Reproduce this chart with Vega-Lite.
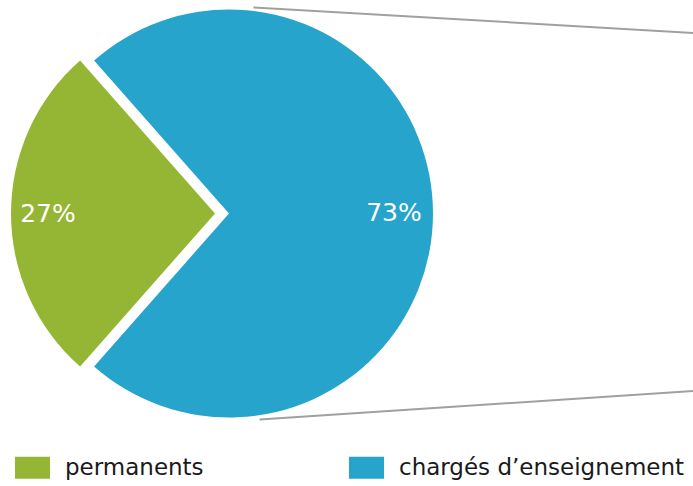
{
  "$schema": "https://vega.github.io/schema/vega-lite/v6.json",
  "width": 693,
  "height": 486,
  "autosize": {"type": "none"},
  "padding": 0,
  "background": "white",
  "config": {"view": {"stroke": null}, "font": "DejaVu Sans"},
  "datasets": {
    "shares": [
      {"groupe": "chargés d’enseignement", "pct": 73, "etiquette": "73%", "rang": 1},
      {"groupe": "permanents", "pct": 27, "etiquette": "27%", "rang": 2}
    ],
    "connectors": [
      {"x": 0.12, "y": 1.01, "x2": 2.28, "y2": 0.885},
      {"x": 0.15, "y": -1.01, "x2": 2.28, "y2": -0.87}
    ]
  },
  "layer": [
    {
      "data": {"name": "connectors"},
      "mark": {"type": "rule", "color": "#A0A0A0", "strokeWidth": 2},
      "encoding": {
        "x": {"field": "x", "type": "quantitative", "scale": {"domain": [-1.1225, 2.2745], "nice": false, "zero": false}, "axis": null},
        "y": {"field": "y", "type": "quantitative", "scale": {"domain": [-1.3358, 1.0466], "nice": false, "zero": false}, "axis": null},
        "x2": {"field": "x2"},
        "y2": {"field": "y2"}
      }
    },
    {
      "data": {"name": "shares"},
      "mark": {"type": "arc", "outerRadius": 204},
      "encoding": {
        "x": {"datum": 0, "type": "quantitative"},
        "y": {"datum": 0, "type": "quantitative"},
        "theta": {"field": "pct", "type": "quantitative", "stack": true, "scale": {"range": [5.5606, 11.8438]}},
        "order": {"field": "rang"},
        "color": {
          "field": "groupe", "type": "nominal",
          "scale": {"domain": ["permanents", "chargés d’enseignement"], "range": ["#95B634", "#27A4CB"]},
          "legend": {
            "title": null, "orient": "none", "legendX": 15, "legendY": 450, "direction": "horizontal",
            "columns": 2, "columnPadding": 145, "padding": 0,
            "symbolType": "M-1,-0.63H1V0.63H-1Z", "symbolSize": 1225, "symbolOpacity": 1, "symbolStrokeWidth": 0,
            "labelFont": "DejaVu Sans", "labelFontSize": 23, "labelColor": "#1a1a1a", "labelOffset": 15, "labelLimit": 400
          }
        },
        "fillOpacity": {"condition": {"test": "datum.groupe === 'permanents'", "value": 0}, "value": 1}
      }
    },
    {
      "data": {"name": "shares"},
      "mark": {"type": "arc", "outerRadius": 204, "xOffset": -14},
      "encoding": {
        "x": {"datum": 0, "type": "quantitative"},
        "y": {"datum": 0, "type": "quantitative"},
        "theta": {"field": "pct", "type": "quantitative", "stack": true},
        "order": {"field": "rang"},
        "color": {"field": "groupe", "type": "nominal", "legend": null},
        "fillOpacity": {"condition": {"test": "datum.groupe === 'permanents'", "value": 1}, "value": 0}
      }
    },
    {
      "data": {"name": "shares"},
      "mark": {"type": "text", "radius": 165, "fontSize": 25, "font": "DejaVu Sans", "color": "white"},
      "encoding": {
        "x": {"datum": 0, "type": "quantitative"},
        "y": {"datum": 0, "type": "quantitative"},
        "theta": {"field": "pct", "type": "quantitative", "stack": true},
        "order": {"field": "rang"},
        "text": {"field": "etiquette"},
        "opacity": {"condition": {"test": "datum.groupe === 'permanents'", "value": 0}, "value": 1}
      }
    },
    {
      "data": {"name": "shares"},
      "mark": {"type": "text", "radius": 167, "fontSize": 25, "font": "DejaVu Sans", "color": "white", "xOffset": -14},
      "encoding": {
        "x": {"datum": 0, "type": "quantitative"},
        "y": {"datum": 0, "type": "quantitative"},
        "theta": {"field": "pct", "type": "quantitative", "stack": true},
        "order": {"field": "rang"},
        "text": {"field": "etiquette"},
        "opacity": {"condition": {"test": "datum.groupe === 'permanents'", "value": 1}, "value": 0}
      }
    }
  ]
}
